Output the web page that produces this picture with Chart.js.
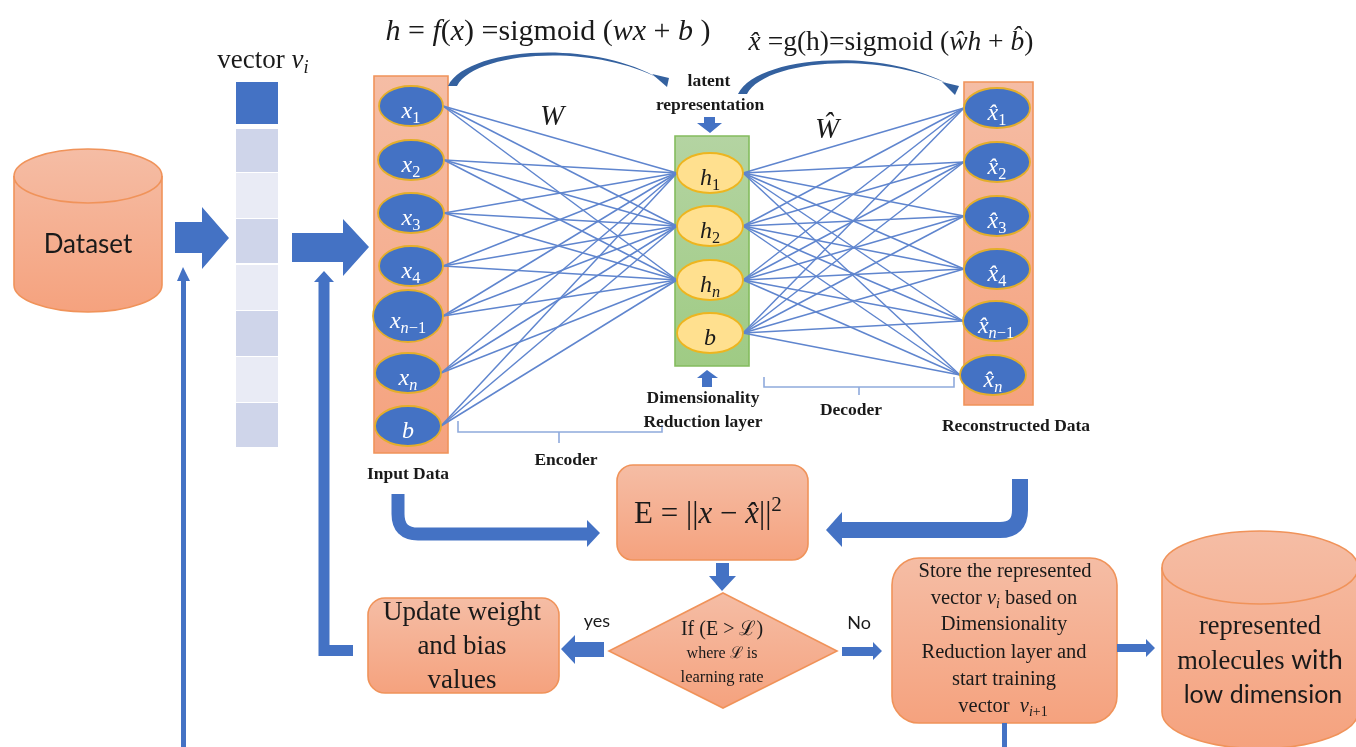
<!DOCTYPE html>
<html>
<head>
<meta charset="utf-8">
<style>
html, body { margin: 0; padding: 0; background: #fff; overflow: hidden; }
canvas { display: block; filter: blur(0.4px); }
</style>
</head>
<body>
<canvas id="myChart" width="1356" height="747"></canvas>
<script src="https://cdn.jsdelivr.net/npm/chart.js@4"></script>
<script>
let inputX = [411, 411, 411, 411, 408, 408, 408];
let inputY = [106, 160, 213, 266, 316, 373, 426];
let inputRx = [32, 33, 33, 32, 35, 33, 33];
let inputRy = [20, 20, 20, 20, 26, 20, 20];
let inputLabels = ["x", "x", "x", "x", "x", "x", "b"];
let latentX = [710, 710, 710, 710];
let latentY = [173, 226, 280, 333];
let latentLabels = ["h", "h", "h", "b"];
let latentSubs = [[["1", "d"]], [["2", "d"]], [["n", "s"]], []];

let outputX = [997, 997, 997, 997, 996, 993];
let outputY = [108, 162, 216, 269, 321, 375];
let outputLabels = ["x̂", "x̂", "x̂", "x̂", "x̂", "x̂"];
let xSubs = [[["1", "d"]], [["2", "d"]], [["3", "d"]], [["4", "d"]], [["n", "s"], ["−1", "d"]], [["n", "s"]], []];

let vectorTop = [82, 129, 173, 219, 265, 311, 357, 403];
let vectorBottom = [124, 172, 218, 263, 310, 356, 402, 447];
let vectorColors = ["#4472C4", "#CFD5EA", "#E9EBF5", "#CFD5EA", "#E9EBF5", "#CFD5EA", "#E9EBF5", "#CFD5EA"];

let encoderBrace = [[458, 421], [458, 432], [662, 432], [662, 425]];
let encoderTick = [[559, 432], [559, 443]];
let decoderBrace = [[764, 377], [764, 387], [954, 387], [954, 377]];
let decoderTick = [[859, 387], [859, 395]];

// straight block arrows as outlines
let arrowOutlines = [
    [[175, 222], [202, 222], [202, 207], [229, 238], [202, 269], [202, 253], [175, 253]],
    [[292, 233], [343, 233], [343, 219], [369, 247], [343, 276], [343, 262], [292, 262]],
    [[181, 747], [181, 281], [177, 281], [183, 267], [190, 281], [186, 281], [186, 747]],
    [[704, 117], [715, 117], [715, 123], [722, 123], [710, 133], [697, 123], [704, 123]],
    [[702, 387], [702, 378], [697, 378], [707, 370], [718, 378], [712, 378], [712, 387]],
    [[716, 563], [729, 563], [729, 576], [736, 576], [722, 591], [709, 576], [716, 576]],
    [[604, 642], [575, 642], [575, 635], [561, 649], [575, 664], [575, 657], [604, 657]],
    [[842, 647], [873, 647], [873, 642], [882, 651], [873, 660], [873, 656], [842, 656]],
    [[1117, 644], [1146, 644], [1146, 639], [1155, 648], [1146, 657], [1146, 652], [1117, 652]],
    [[587, 520], [600, 533], [587, 547]],
    [[842, 512], [826, 530], [842, 547]],
    [[319, 282], [314, 282], [324, 271], [334, 282], [329, 282], [329, 300], [319, 300]]
];

const X = (c, v) => c.scales.x.getPixelForValue(v);
const Y = (c, v) => c.scales.y.getPixelForValue(v);

function boxGradient(c, top, bottom) {
    let g = c.ctx.createLinearGradient(0, Y(c, top), 0, Y(c, bottom));
    g.addColorStop(0, "#F5BDA5");
    g.addColorStop(1, "#F5A27E");
    return g;
}

function roundBox(c, x0, y0, x1, y1, r) {
    let ctx = c.ctx;
    ctx.beginPath();
    ctx.roundRect(X(c, x0), Y(c, y0), X(c, x1) - X(c, x0), Y(c, y1) - Y(c, y0), r);
    ctx.fillStyle = boxGradient(c, y0, y1);
    ctx.fill();
    ctx.strokeStyle = "#F0935A";
    ctx.lineWidth = 1.6;
    ctx.stroke();
}

function cylinder(c, cx, rx, ry, top, bottom) {
    let ctx = c.ctx;
    ctx.beginPath();
    ctx.ellipse(X(c, cx), Y(c, bottom), rx, ry, 0, 0, Math.PI);
    ctx.lineTo(X(c, cx - rx), Y(c, top));
    ctx.ellipse(X(c, cx), Y(c, top), rx, ry, 0, Math.PI, 2 * Math.PI);
    ctx.closePath();
    ctx.fillStyle = boxGradient(c, top - ry, bottom + ry);
    ctx.fill();
    ctx.strokeStyle = "#F0935A";
    ctx.lineWidth = 1.6;
    ctx.stroke();
    ctx.beginPath();
    ctx.ellipse(X(c, cx), Y(c, top), rx, ry, 0, 0, Math.PI);
    ctx.stroke();
}

function polygon(c, pts, color) {
    let ctx = c.ctx;
    ctx.beginPath();
    pts.forEach((p, i) => i ? ctx.lineTo(X(c, p[0]), Y(c, p[1])) : ctx.moveTo(X(c, p[0]), Y(c, p[1])));
    ctx.closePath();
    ctx.fillStyle = color;
    ctx.fill();
}

// curved arrow over the network: out along the top edge, back along the bottom edge
function swoop(c, outer, inner) {
    let ctx = c.ctx;
    let P = (p, i) => [X(c, p[i]), Y(c, p[i + 1])];
    ctx.beginPath();
    ctx.moveTo(...P(outer, 0));
    ctx.bezierCurveTo(...P(outer, 2), ...P(outer, 4), ...P(outer, 6));
    ctx.bezierCurveTo(...P(inner, 4), ...P(inner, 2), ...P(inner, 0));
    ctx.closePath();
    ctx.fillStyle = "#34619F";
    ctx.fill();
}

function thickPath(c, width, draw) {
    let ctx = c.ctx;
    ctx.beginPath();
    draw(ctx);
    ctx.strokeStyle = "#4472C4";
    ctx.lineWidth = width;
    ctx.lineCap = "butt";
    ctx.lineJoin = "miter";
    ctx.stroke();
}

function oval(c, cx, cy, rx, ry, fill, stroke) {
    let ctx = c.ctx;
    ctx.beginPath();
    ctx.ellipse(X(c, cx), Y(c, cy), rx, ry, 0, 0, 2 * Math.PI);
    ctx.fillStyle = fill;
    ctx.fill();
    ctx.strokeStyle = stroke;
    ctx.lineWidth = 1.8;
    ctx.stroke();
}

const serif = '"Liberation Serif"';
const sans = "Lato";

// runs: [text, style], r roman, i italic, s italic subscript, d roman subscript, u superscript, l sans
function runs(c, parts, cx, y, size, color, family) {
    let ctx = c.ctx;
    let fam = family || serif;
    let font = st => {
        let sz = st === "s" || st === "u" || st === "d" ? size * 0.68 : size;
        let f = st === "l" ? sans : fam;
        return (st === "i" || st === "s" ? "italic " : st === "b" ? "bold " : "") + sz + "px " + f;
    };
    let total = 0;
    parts.forEach(p => { ctx.font = font(p[1]); total += ctx.measureText(p[0]).width; });
    let px = X(c, cx) - total / 2;
    ctx.textAlign = "left";
    ctx.textBaseline = "alphabetic";
    ctx.fillStyle = color || "#1a1a1a";
    parts.forEach(p => {
        ctx.font = font(p[1]);
        let dy = p[1] === "s" || p[1] === "d" ? size * 0.2 : p[1] === "u" ? -size * 0.38 : 0;
        ctx.fillText(p[0], px, Y(c, y) + dy);
        px += ctx.measureText(p[0]).width;
    });
}

const shapes = {
    id: "shapes",
    beforeDatasetsDraw(c) {
        let ctx = c.ctx;
        ctx.save();
        cylinder(c, 88, 74, 27, 176, 285);
        cylinder(c, 1260, 98, 36.5, 567.5, 712);

        vectorTop.forEach((t, i) => {
            ctx.fillStyle = vectorColors[i];
            ctx.fillRect(X(c, 236), Y(c, t), X(c, 278) - X(c, 236), Y(c, vectorBottom[i]) - Y(c, t));
        });

        roundBox(c, 374, 76, 448, 453, 0);
        roundBox(c, 964, 82, 1033, 405, 0);
        ctx.beginPath();
        ctx.rect(X(c, 675), Y(c, 136), X(c, 749) - X(c, 675), Y(c, 366) - Y(c, 136));
        let g = ctx.createLinearGradient(0, Y(c, 136), 0, Y(c, 366));
        g.addColorStop(0, "#B4D4A2");
        g.addColorStop(1, "#9FCB84");
        ctx.fillStyle = g;
        ctx.fill();
        ctx.strokeStyle = "#84BC5E";
        ctx.lineWidth = 1.6;
        ctx.stroke();

        roundBox(c, 617, 465, 808, 560, 16);
        roundBox(c, 368, 598, 559, 693, 17);
        roundBox(c, 892, 558, 1117, 723, 27);

        // decision diamond
        ctx.beginPath();
        [[723, 593], [837, 651], [723, 708], [609, 651]].forEach((p, i) =>
            i ? ctx.lineTo(X(c, p[0]), Y(c, p[1])) : ctx.moveTo(X(c, p[0]), Y(c, p[1])));
        ctx.closePath();
        ctx.fillStyle = boxGradient(c, 593, 708);
        ctx.fill();
        ctx.strokeStyle = "#F0935A";
        ctx.lineWidth = 1.6;
        ctx.stroke();

        arrowOutlines.forEach(a => polygon(c, a, "#4472C4"));

        thickPath(c, 13, p => {
            p.moveTo(X(c, 398), Y(c, 494));
            p.lineTo(X(c, 398), Y(c, 514));
            p.quadraticCurveTo(X(c, 398), Y(c, 534), X(c, 418), Y(c, 534));
            p.lineTo(X(c, 588), Y(c, 534));
        });
        thickPath(c, 16, p => {
            p.moveTo(X(c, 1020), Y(c, 479));
            p.lineTo(X(c, 1020), Y(c, 510));
            p.quadraticCurveTo(X(c, 1020), Y(c, 530), X(c, 1000), Y(c, 530));
            p.lineTo(X(c, 841), Y(c, 530));
        });
        thickPath(c, 11, p => {
            p.moveTo(X(c, 353), Y(c, 650.5));
            p.lineTo(X(c, 324), Y(c, 650.5));
            p.lineTo(X(c, 324), Y(c, 282));
        });
        thickPath(c, 5, p => {
            p.moveTo(X(c, 1004.5), Y(c, 723));
            p.lineTo(X(c, 1004.5), Y(c, 747));
        });

        swoop(c, [448, 86, 466, 48, 590, 38, 660, 79], [457, 86, 474, 52, 590, 42, 660, 79]);
        polygon(c, [[669, 78], [652, 74], [667, 87]], "#34619F");
        swoop(c, [738, 94, 756, 56, 880, 46, 950, 85], [747, 94, 764, 60, 880, 50, 950, 85]);
        polygon(c, [[959, 86], [942, 82], [955, 95]], "#34619F");
        ctx.restore();
    },
    afterDatasetsDraw(c) {
        let ctx = c.ctx;
        ctx.save();
        inputX.forEach((x, i) => {
            oval(c, x, inputY[i], inputRx[i], inputRy[i], "#4472C4", "#E3AE2B");
            runs(c, [[inputLabels[i], "i"], ...xSubs[i]], x, inputY[i] + 12, 24, "#fff");
        });
        latentX.forEach((x, i) => {
            oval(c, x, latentY[i], 33, 20, "#FFE08F", "#EDB51F");
            runs(c, [[latentLabels[i], "i"], ...latentSubs[i]], x, latentY[i] + 12, 24, "#1a1a1a");
        });
        outputX.forEach((x, i) => {
            oval(c, x, outputY[i], 33, 20, "#4472C4", "#E3AE2B");
            runs(c, [[outputLabels[i], "i"], ...xSubs[i]], x, outputY[i] + 12, 24, "#fff");
        });

        runs(c, [["h", "i"], [" = ", "r"], ["f", "i"], ["(", "r"], ["x", "i"], [") =sigmoid (", "r"], ["wx", "i"], [" + ", "r"], ["b", "i"], [" )", "r"]], 548, 40, 30);
        runs(c, [["x̂", "i"], [" =g(h)=sigmoid (", "r"], ["ŵh", "i"], [" + ", "r"], ["b̂", "i"], [")", "r"]], 891, 50, 27.5);
        runs(c, [["vector ", "r"], ["v", "i"], ["i", "s"]], 263, 68, 27);
        runs(c, [["W", "i"]], 552, 125, 29);
        runs(c, [["Ŵ", "i"]], 827, 138, 29);

        runs(c, [["latent", "b"]], 709, 86, 17.5);
        runs(c, [["representation", "b"]], 710, 110, 17.5);
        runs(c, [["Dimensionality", "b"]], 703, 403, 17.5);
        runs(c, [["Reduction layer", "b"]], 703, 427, 17.5);
        runs(c, [["Encoder", "b"]], 566, 465, 17.5);
        runs(c, [["Decoder", "b"]], 851, 415, 17.5);
        runs(c, [["Input Data", "b"]], 408, 479, 17.5);
        runs(c, [["Reconstructed Data", "b"]], 1016, 431, 17.5);

        runs(c, [["Dataset", "r"]], 88, 253, 26, "#1a1a1a", sans);
        runs(c, [["E = ||", "r"], ["x", "i"], [" − ", "r"], ["x̂", "i"], ["||", "r"], ["2", "u"]], 708, 523, 31);

        runs(c, [["Update weight", "r"]], 462, 620, 27);
        runs(c, [["and bias", "r"]], 462, 654, 27);
        runs(c, [["values", "r"]], 462, 688, 27);

        runs(c, [["If (E > ℒ)", "r"]], 722, 635, 20);
        runs(c, [["where ℒ is", "r"]], 722, 658, 16);
        runs(c, [["learning rate", "r"]], 722, 682, 16.5);
        runs(c, [["yes", "r"]], 597, 627, 18, "#1a1a1a", sans);
        runs(c, [["No", "r"]], 859, 629, 18, "#1a1a1a", sans);

        runs(c, [["Store the represented", "r"]], 1005, 577, 20.5);
        runs(c, [["vector ", "r"], ["v", "i"], ["i", "s"], [" based on", "r"]], 1004, 604, 20.5);
        runs(c, [["Dimensionality", "r"]], 1004, 630, 20.5);
        runs(c, [["Reduction layer and", "r"]], 1004, 658, 20.5);
        runs(c, [["start training", "r"]], 1004, 685, 20.5);
        runs(c, [["vector  ", "r"], ["v", "i"], ["i", "s"], ["+1", "d"]], 1003, 712, 20.5);

        runs(c, [["represented", "r"]], 1260, 634, 26.5);
        runs(c, [["molecules ", "r"], ["with", "l"]], 1260, 669, 26.5);
        runs(c, [["low dimension", "r"]], 1263, 703, 25, "#1a1a1a", sans);
        ctx.restore();
    }
};

// one line dataset per wire of the network
let wires = [];
inputX.forEach((x, i) => {
    latentX.slice(0, 3).forEach((lx, j) => {
        wires.push([{ x: x + inputRx[i], y: inputY[i] }, { x: lx - 33, y: latentY[j] }]);
    });
});
latentX.forEach((lx, j) => {
    outputX.forEach((x, i) => {
        wires.push([{ x: lx + 33, y: latentY[j] }, { x: x - 33, y: outputY[i] }]);
    });
});

let datasets = wires.map(w => ({
    data: w, showLine: true, pointRadius: 0, borderColor: "#5F85CE", borderWidth: 1.5
}));
[encoderBrace, encoderTick, decoderBrace, decoderTick].forEach(b => {
    datasets.push({
        data: b.map(p => ({ x: p[0], y: p[1] })),
        showLine: true, pointRadius: 0, borderColor: "#8FAADC", borderWidth: 1.6
    });
});

let myChart = new Chart(document.getElementById("myChart"), {
    type: "scatter",
    data: { datasets },
    options: {
        responsive: false,
        animation: false,
        devicePixelRatio: 1,
        layout: { padding: 0 },
        plugins: { legend: { display: false }, tooltip: { enabled: false } },
        scales: {
            x: { type: "linear", min: 0, max: 1356, display: false },
            y: { type: "linear", min: 0, max: 747, reverse: true, display: false }
        }
    },
    plugins: [shapes]
});
</script>
</body>
</html>
